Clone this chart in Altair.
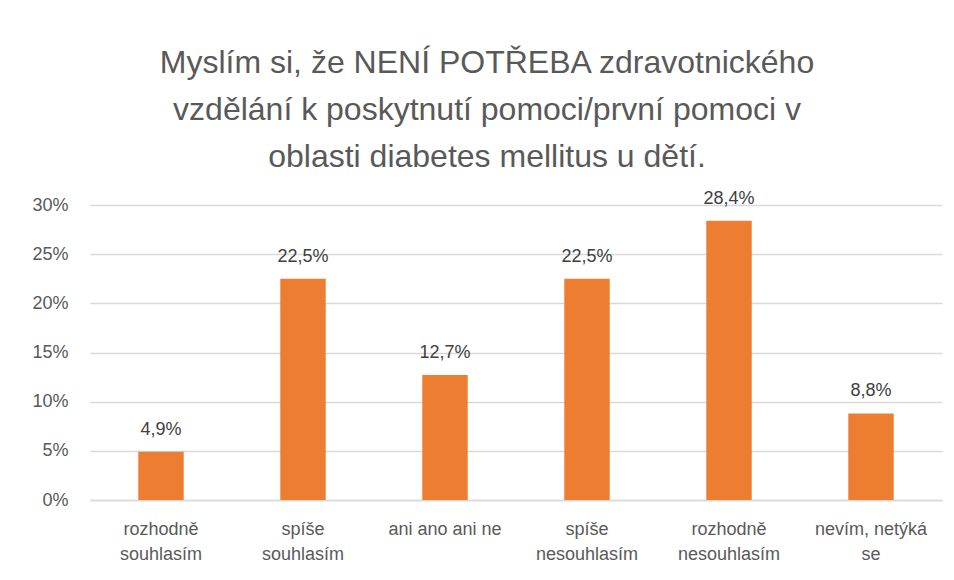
import altair as alt
import pandas as pd

categories = ["rozhodně souhlasím", "spíše souhlasím", "ani ano ani ne",
              "spíše nesouhlasím", "rozhodně nesouhlasím", "nevím, netýká se"]
label_lines = [["rozhodně", "souhlasím"], ["spíše", "souhlasím"], ["ani ano ani ne"],
               ["spíše", "nesouhlasím"], ["rozhodně", "nesouhlasím"], ["nevím, netýká", "se"]]
values = [4.9, 22.5, 12.7, 22.5, 28.4, 8.8]

df = pd.DataFrame({"cat": categories, "value": [v / 100 for v in values],
                   "pct": values})
df["label"] = [f"{v:.1f}".replace(".", ",") + "%" for v in values]

FONT = "Liberation Sans, sans-serif"
GRAY = "#595959"

mapping = "{" + ", ".join(
    f"'{c}': [" + ", ".join(f"'{l}'" for l in lines) + "]"
    for c, lines in zip(categories, label_lines)) + "}"

x = alt.X("cat:N", sort=categories, title=None,
          scale=alt.Scale(paddingInner=0.68, paddingOuter=0.34),
          axis=alt.Axis(labelAngle=0, labelFontSize=18, labelColor=GRAY,
                        labelFont=FONT, labelLineHeight=25, labelPadding=20,
                        ticks=False, domainColor="#D9D9D9", domainWidth=1.3,
                        labelExpr=f"{mapping}[datum.value]", grid=False))
y = alt.Y("value:Q", title=None,
          scale=alt.Scale(domain=[0, 0.3]),
          axis=alt.Axis(format=".0%", values=[0, 0.05, 0.1, 0.15, 0.2, 0.25, 0.3],
                        labelFontSize=18, labelColor=GRAY, labelFont=FONT,
                        labelPadding=22, ticks=False, domain=False,
                        gridColor="#D9D9D9", gridWidth=1.3))

bars = alt.Chart(df).mark_bar(color="#ED7D31").encode(x=x, y=y)
text = alt.Chart(df).mark_text(dy=-13, baseline="bottom", fontSize=18,
                               color="#404040", font=FONT).encode(
    x=alt.X("cat:N", sort=categories), y="value:Q", text="label:N")

chart = alt.layer(bars, text).properties(
    width=852, height=295,
    padding={"left": 82, "top": 197, "right": 4, "bottom": 72},
    autosize=alt.AutoSizeParams(type="none"),
    title=alt.TitleParams(
        ["Myslím si, že NENÍ POTŘEBA zdravotnického",
         "vzdělání k poskytnutí pomoci/první pomoci v",
         "oblasti diabetes mellitus u dětí."],
        fontSize=32, font=FONT, color=GRAY, fontWeight="normal",
        lineHeight=47, anchor="middle", dx=-29, offset=16),
).configure_view(stroke=None)

chart.save("out.html", embed_options={"renderer": "svg", "actions": False})
